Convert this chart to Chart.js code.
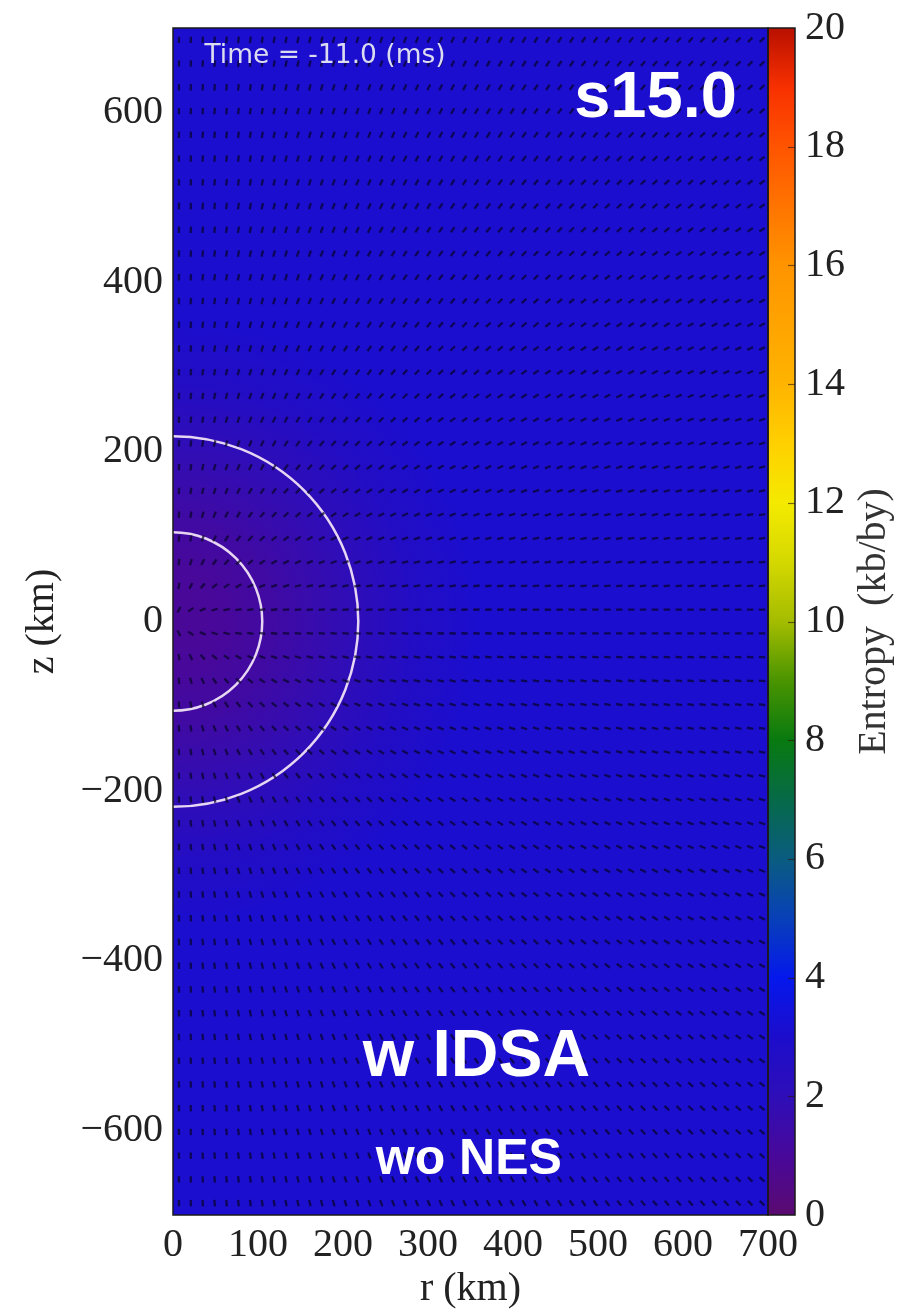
<!DOCTYPE html>
<html>
<head>
<meta charset="utf-8">
<script src="https://cdn.jsdelivr.net/npm/chart.js@4.4.0/dist/chart.umd.min.js"></script>
<style>
html, body { margin: 0; padding: 0; background: #fff; }
canvas { display: block; }
</style>
</head>
<body>
<canvas id="entropy-map" width="911" height="1313"></canvas>
<script>
// axes
var rTicks = [0, 100, 200, 300, 400, 500, 600, 700];
var zTicks = [-600, -400, -200, 0, 200, 400, 600];
var entropyTicks = [0, 2, 4, 6, 8, 10, 12, 14, 16, 18, 20];

// colour map of the entropy bar
var cbarValues = [0, 1, 2, 3, 4, 5, 6, 7, 8, 9, 10, 11, 12, 13, 14, 15, 16, 17, 18, 19, 20];
var cbarColors = ["#5a0a70", "#48089a", "#2e0eb8", "#1c0dcc", "#0518ec", "#0840b8", "#0a5c80",
                  "#066a48", "#087a10", "#4a9400", "#a4bc00", "#d4d800", "#f4ea00", "#ffd000",
                  "#ffb400", "#ffa400", "#ff9400", "#ff7400", "#ff5400", "#f83000", "#b81000"];

// entropy vs radius around the core (km, kb/by)
var profileRadius = [0, 60, 120, 200, 280, 360];
var profileEntropy = [0.9, 1.0, 1.3, 1.9, 2.6, 3.05];

// white contours (km)
var ringRadius = [105, 218];

// velocity arrow sampling grid (km)
var rCols = [7, 21, 35, 49, 63, 77, 91, 105, 119, 133, 147, 161, 175, 189, 203, 217, 231, 245, 259, 273,
             287, 301, 315, 329, 343, 357, 371, 385, 399, 413, 427, 441, 455, 469, 483, 497, 511, 525,
             539, 553, 567, 581, 595, 609, 623, 637, 651, 665, 679, 693];
var zRows = [686, 658, 630, 602, 574, 546, 518, 490, 462, 434, 406, 378, 350, 322, 294, 266, 238, 210,
             182, 154, 126, 98, 70, 42, 14, -14, -42, -70, -98, -126, -154, -182, -210, -238, -266, -294,
             -322, -350, -378, -406, -434, -462, -490, -518, -546, -574, -602, -630, -658, -686];

var serif = "'Liberation Serif', 'DejaVu Serif', serif";
var sans = "'Liberation Sans', Arial, sans-serif";

function hexToRgb(h) {
    return [parseInt(h.substr(1, 2), 16), parseInt(h.substr(3, 2), 16), parseInt(h.substr(5, 2), 16)];
}

function entropyColor(s) {
    if (s <= cbarValues[0]) return cbarColors[0];
    for (var i = 1; i < cbarValues.length; i++) {
        if (s <= cbarValues[i]) {
            var t = (s - cbarValues[i - 1]) / (cbarValues[i] - cbarValues[i - 1]);
            var a = hexToRgb(cbarColors[i - 1]), b = hexToRgb(cbarColors[i]);
            return "rgb(" + Math.round(a[0] + (b[0] - a[0]) * t) + "," +
                Math.round(a[1] + (b[1] - a[1]) * t) + "," + Math.round(a[2] + (b[2] - a[2]) * t) + ")";
        }
    }
    return cbarColors[cbarColors.length - 1];
}

var arrowPoints = [];
for (var i = 0; i < zRows.length; i++)
    for (var j = 0; j < rCols.length; j++)
        arrowPoints.push({x: rCols[j], y: zRows[i]});

var fieldPlugin = {
    id: "field",
    beforeDatasetsDraw: function(chart) {
        var ctx = chart.ctx, a = chart.chartArea;
        var xs = chart.scales.x, ys = chart.scales.y;
        var cx = xs.getPixelForValue(0), cy = ys.getPixelForValue(0);
        var rMax = profileRadius[profileRadius.length - 1];
        var rp = xs.getPixelForValue(rMax) - cx;

        ctx.save();
        ctx.beginPath();
        ctx.rect(a.left, a.top, a.right - a.left, a.bottom - a.top);
        ctx.clip();
        ctx.fillStyle = entropyColor(profileEntropy[profileEntropy.length - 1]);
        ctx.fillRect(a.left, a.top, a.right - a.left, a.bottom - a.top);

        var g = ctx.createRadialGradient(cx, cy, 0, cx, cy, rp);
        for (var k = 0; k < profileRadius.length; k++)
            g.addColorStop(profileRadius[k] / rMax, entropyColor(profileEntropy[k]));
        ctx.fillStyle = g;
        ctx.fillRect(a.left, a.top, a.right - a.left, a.bottom - a.top);

        ctx.strokeStyle = "rgba(240,226,246,0.95)";
        ctx.lineWidth = 2.5;
        ringRadius.forEach(function(R) {
            ctx.beginPath();
            ctx.arc(cx, cy, xs.getPixelForValue(R) - cx, -Math.PI / 2, Math.PI / 2);
            ctx.stroke();
        });
        ctx.restore();
    },
    afterDatasetsDraw: function(chart) {
        var ctx = chart.ctx;
        var xs = chart.scales.x, ys = chart.scales.y;
        ctx.save();
        ctx.textBaseline = "middle";

        ctx.fillStyle = "#dcdcf0";
        ctx.font = "26.5px 'DejaVu Sans', sans-serif";
        ctx.textAlign = "left";
        ctx.fillText("Time = -11.0 (ms)", xs.getPixelForValue(37), ys.getPixelForValue(667));

        ctx.fillStyle = "#ffffff";
        ctx.font = "bold 65px " + sans;
        ctx.textAlign = "left";
        ctx.fillText("s15.0", xs.getPixelForValue(472), ys.getPixelForValue(616));

        ctx.textAlign = "center";
        ctx.font = "bold 66px " + sans;
        ctx.fillText("w IDSA", xs.getPixelForValue(357), ys.getPixelForValue(-515));
        ctx.font = "bold 50px " + sans;
        ctx.fillText("wo NES", xs.getPixelForValue(348), ys.getPixelForValue(-635));
        ctx.restore();
    },
    afterDraw: function(chart) {
        var ctx = chart.ctx, a = chart.chartArea;
        var yc = chart.scales.yc;
        var barL = a.right, barW = 27;
        var y0 = yc.getPixelForValue(0), y1 = yc.getPixelForValue(20);

        ctx.save();
        var g = ctx.createLinearGradient(0, y0, 0, y1);
        for (var k = 0; k < cbarValues.length; k++)
            g.addColorStop((cbarValues[k] - 0) / 20, cbarColors[k]);
        ctx.fillStyle = g;
        ctx.fillRect(barL, y1, barW, y0 - y1);

        ctx.strokeStyle = "rgba(40,20,0,0.6)";
        ctx.lineWidth = 1.2;
        entropyTicks.forEach(function(v) {
            if (v === 0 || v === 20) return;
            var py = Math.round(yc.getPixelForValue(v)) + 0.5;
            ctx.beginPath();
            ctx.moveTo(barL + barW - 7, py);
            ctx.lineTo(barL + barW, py);
            ctx.stroke();
        });

        ctx.strokeStyle = "#1a1a1a";
        ctx.lineWidth = 1.5;
        ctx.strokeRect(a.left, a.top, a.right - a.left, a.bottom - a.top);
        ctx.strokeRect(barL, y1, barW, y0 - y1);

        ctx.fillStyle = "#333";
        ctx.font = "40px " + serif;
        ctx.textAlign = "center";
        ctx.textBaseline = "middle";
        ctx.translate(874, (a.top + a.bottom) / 2);
        ctx.rotate(-Math.PI / 2);
        ctx.fillText("Entropy  (kb/by)", 0, 0);
        ctx.restore();
    }
};

function minusSign(v) {
    return String(v).replace("-", "\u2212");
}

function noPad(s) {
    s.paddingTop = 0;
    s.paddingBottom = 0;
    s.paddingLeft = 0;
    s.paddingRight = 0;
}

new Chart(document.getElementById("entropy-map"), {
    type: "scatter",
    data: {
        datasets: [{
            label: "velocity",
            data: arrowPoints,
            pointStyle: "line",
            pointRadius: 3.2,
            pointHoverRadius: 3.2,
            pointBorderWidth: 2.3,
            pointBorderColor: "rgba(8,4,40,0.72)",
            rotation: function(c) {
                var p = c.raw;
                if (!p) return 0;
                return Math.atan2(-p.y, p.x) * 180 / Math.PI;
            }
        }]
    },
    options: {
        responsive: false,
        animation: false,
        devicePixelRatio: 1,
        layout: {padding: {top: 28, left: 0, right: 0, bottom: 0}},
        plugins: {legend: {display: false}, tooltip: {enabled: false}},
        events: [],
        scales: {
            x: {
                type: "linear",
                min: 0,
                max: 700,
                grid: {display: false, drawTicks: false},
                border: {display: false},
                afterBuildTicks: function(s) { s.ticks = rTicks.map(function(v) { return {value: v}; }); },
                afterFit: function(s) { s.height = 98; noPad(s); },
                ticks: {
                    font: {family: serif, size: 40},
                    color: "#222",
                    padding: 6,
                    maxRotation: 0,
                    autoSkip: false
                },
                title: {
                    display: true,
                    text: "r (km)",
                    font: {family: serif, size: 40},
                    color: "#222",
                    padding: {top: 0, bottom: 0}
                }
            },
            y: {
                type: "linear",
                position: "left",
                min: -700,
                max: 700,
                grid: {display: false, drawTicks: false},
                border: {display: false},
                afterBuildTicks: function(s) { s.ticks = zTicks.map(function(v) { return {value: v}; }); },
                afterFit: function(s) { s.width = 173; noPad(s); },
                ticks: {
                    font: {family: serif, size: 40},
                    color: "#222",
                    padding: 10,
                    autoSkip: false,
                    callback: function(v) { return minusSign(v); }
                },
                title: {
                    display: true,
                    text: "z (km)",
                    font: {family: serif, size: 40},
                    color: "#222",
                    padding: {top: 18, bottom: 0}
                }
            },
            yc: {
                type: "linear",
                position: "right",
                min: 0,
                max: 20,
                grid: {display: false, drawTicks: false},
                border: {display: false},
                afterBuildTicks: function(s) { s.ticks = entropyTicks.map(function(v) { return {value: v}; }); },
                afterFit: function(s) { s.width = 143; noPad(s); },
                ticks: {
                    font: {family: serif, size: 40},
                    color: "#222",
                    padding: 37,
                    autoSkip: false
                }
            }
        }
    },
    plugins: [fieldPlugin]
});
</script>
</body>
</html>
